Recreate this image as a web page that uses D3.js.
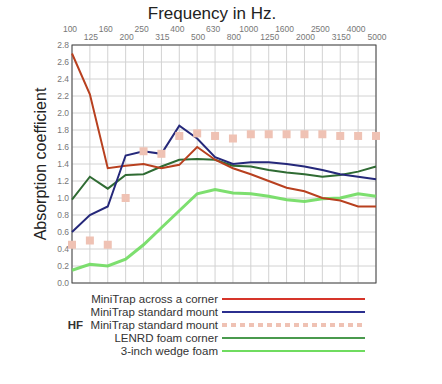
<!DOCTYPE html>
<html>
<head>
<meta charset="utf-8">
<script src="https://cdn.jsdelivr.net/npm/d3@7"></script>
<style>
  body { margin: 0; background: #fff; }
  text { font-family: "Liberation Sans", Arial, sans-serif; }
</style>
</head>
<body>
<svg width="442" height="384"></svg>
<script>
// frequencies (third-octave bands)
var freqs = ["100", "125", "160", "200", "250", "315", "400", "500", "630", "800",
             "1000", "1250", "1600", "2000", "2500", "3150", "4000", "5000"];
var yTicks = [0, 0.2, 0.4, 0.6, 0.8, 1.0, 1.2, 1.4, 1.6, 1.8, 2.0, 2.2, 2.4, 2.6, 2.8];

var cornerVals   = [2.70, 2.22, 1.35, 1.38, 1.40, 1.35, 1.39, 1.60, 1.45, 1.35, 1.28, 1.20, 1.12, 1.08, 1.00, 0.97, 0.90, 0.90];
var standardVals = [0.60, 0.80, 0.90, 1.50, 1.55, 1.52, 1.85, 1.70, 1.48, 1.40, 1.42, 1.42, 1.40, 1.37, 1.33, 1.28, 1.25, 1.22];
var hfVals       = [0.45, 0.50, 0.45, 1.00, 1.55, 1.52, 1.73, 1.76, 1.73, 1.70, 1.75, 1.75, 1.75, 1.75, 1.75, 1.73, 1.73, 1.73];
var lenrdVals    = [0.98, 1.25, 1.11, 1.27, 1.28, 1.37, 1.45, 1.46, 1.45, 1.38, 1.37, 1.33, 1.30, 1.28, 1.25, 1.27, 1.31, 1.37];
var wedgeVals    = [0.15, 0.22, 0.20, 0.28, 0.45, 0.65, 0.85, 1.05, 1.10, 1.06, 1.05, 1.02, 0.98, 0.96, 0.99, 1.00, 1.05, 1.02];

var legendNames = ["MiniTrap across a corner", "MiniTrap standard mount", "MiniTrap standard mount",
                   "LENRD foam corner", "3-inch wedge foam"];

var plotLeft = 72, plotRight = 376, plotTop = 45, plotBottom = 283;

var svg = d3.select("svg");

var xScale = d3.scalePoint()
    .domain(freqs)
    .range([plotLeft, plotRight]);
var yScale = d3.scaleLinear()
    .domain([0, 2.8])
    .range([plotBottom, plotTop]);

// grid
svg.append("g")
    .selectAll("line")
    .data(yTicks)
    .enter()
    .append("line")
        .attr("x1", plotLeft).attr("x2", plotRight)
        .attr("y1", d => yScale(d)).attr("y2", d => yScale(d))
        .attr("stroke", "#d2d2d2");
svg.append("g")
    .selectAll("line")
    .data(freqs)
    .enter()
    .append("line")
        .attr("x1", d => xScale(d)).attr("x2", d => xScale(d))
        .attr("y1", plotTop).attr("y2", plotBottom)
        .attr("stroke", "#d2d2d2");

svg.append("rect")
    .attr("x", plotLeft).attr("y", plotTop)
    .attr("width", plotRight - plotLeft).attr("height", plotBottom - plotTop)
    .attr("fill", "none")
    .attr("stroke", "#444");

// y tick labels
svg.append("g")
    .selectAll("text")
    .data(yTicks)
    .enter()
    .append("text")
        .attr("x", plotLeft - 3)
        .attr("y", d => yScale(d))
        .attr("dy", "0.35em")
        .style("text-anchor", "end")
        .style("font-size", "8.5px")
        .style("fill", "#777")
        .text(d => d.toFixed(1));

// x tick labels, two rows
svg.append("g")
    .selectAll("text")
    .data(freqs)
    .enter()
    .append("text")
        .attr("x", (d, i) => xScale(d) + (i % 2 ? 1 : -2))
        .attr("y", (d, i) => i % 2 ? 40 : 32)
        .style("text-anchor", "middle")
        .style("font-size", "8.5px")
        .style("fill", "#777")
        .text(d => d);

// series
var line = d3.line()
    .x((d, i) => xScale(freqs[i]))
    .y(d => yScale(d));

svg.append("path").datum(wedgeVals)
    .attr("d", line).attr("fill", "none")
    .attr("stroke", "#6fdc5f").attr("stroke-width", 3).attr("opacity", 0.9);
svg.append("path").datum(lenrdVals)
    .attr("d", line).attr("fill", "none")
    .attr("stroke", "#2f6b33").attr("stroke-width", 2);
svg.append("path").datum(cornerVals)
    .attr("d", line).attr("fill", "none")
    .attr("stroke", "#b8401f").attr("stroke-width", 2);
svg.append("path").datum(standardVals)
    .attr("d", line).attr("fill", "none")
    .attr("stroke", "#25287a").attr("stroke-width", 2);

svg.append("g")
    .selectAll("rect")
    .data(hfVals)
    .enter()
    .append("rect")
        .attr("x", (d, i) => xScale(freqs[i]) - 4)
        .attr("y", d => yScale(d) - 4)
        .attr("width", 8).attr("height", 8)
        .attr("fill", "#efc2b4");

// title
svg.append("text")
    .attr("x", 212).attr("y", 19)
    .style("text-anchor", "middle")
    .style("font-size", "17px")
    .style("fill", "#222")
    .text("Frequency in Hz.");

svg.append("text")
    .attr("transform", "rotate(-90)")
    .attr("x", -164).attr("y", 46)
    .style("text-anchor", "middle")
    .style("font-size", "16px")
    .style("fill", "#222")
    .text("Absorption coefficient");

// legend
var legendColors = ["#d6352a", "#2b2f8f", "#efc2b4", "#4a9a4e", "#6fdc5f"];
var legendY = [299, 312, 325, 338, 351];
var legend = svg.append("g");
legend.selectAll("text")
    .data(legendNames)
    .enter()
    .append("text")
        .attr("x", 218)
        .attr("y", (d, i) => legendY[i])
        .attr("dy", "0.35em")
        .style("text-anchor", "end")
        .style("font-size", "11.5px")
        .style("fill", "#333")
        .text(d => d);
legend.append("text")
    .attr("x", 83).attr("y", legendY[2]).attr("dy", "0.35em")
    .style("text-anchor", "end")
    .style("font-size", "11.5px")
    .style("font-weight", "bold")
    .style("fill", "#333")
    .text("HF");
legend.selectAll("line")
    .data(legendColors)
    .enter()
    .append("line")
        .attr("x1", 222).attr("x2", 365)
        .attr("y1", (d, i) => legendY[i]).attr("y2", (d, i) => legendY[i])
        .attr("stroke", d => d)
        .attr("stroke-width", (d, i) => i == 2 ? 4 : 2)
        .attr("stroke-dasharray", (d, i) => i == 2 ? "5,4" : null);
</script>
</body>
</html>
